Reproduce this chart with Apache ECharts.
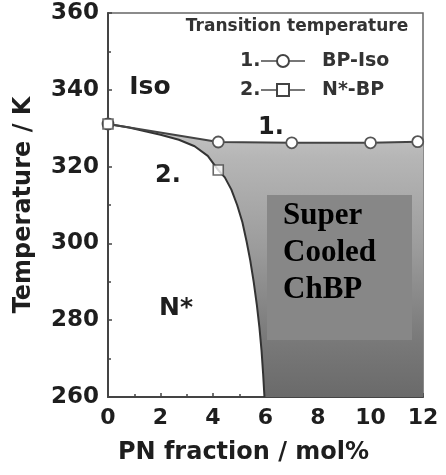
<!DOCTYPE html>
<html>
<head>
<meta charset="utf-8">
<script src="https://cdn.jsdelivr.net/npm/echarts@6/dist/echarts.min.js"></script>
<style>html,body{margin:0;padding:0;background:#fff;}#c{width:446px;height:475px;}</style>
</head>
<body>
<div id="c"></div>
<script>
// Axis ticks
var xTicks = [0, 2, 4, 6, 8, 10, 12];
var yTicks = [260, 280, 300, 320, 340, 360];

// Series 1: BP-Iso transition (circles)
var bpIsoX = [0, 4.2, 7, 10, 11.8];
var bpIsoY = [331.1, 326.4, 326.2, 326.2, 326.5];

// Series 2: N*-BP transition (squares, measured)
var nbpX = [0, 4.2];
var nbpY = [331.1, 319.1];

// Phase boundary N* / BP (traced curve)
var boundX = [0, 0.8, 1.5, 2.0, 2.7, 3.3, 3.8, 4.2, 4.45, 4.7, 4.92, 5.12, 5.28, 5.42, 5.55, 5.67, 5.77, 5.85, 5.91, 5.96];
var boundY = [331.1, 330.2, 329.1, 328.3, 327.0, 325.3, 322.8, 319.1, 317.2, 314.0, 310.0, 305.5, 300.5, 295.5, 290, 284, 278, 272, 266, 260];

// Upper edge of the shaded BP region extended to axis end
var upperEndX = 12;
var upperEndY = 326.5;

function pairs(xs, ys) { return xs.map(function (x, i) { return [x, ys[i]]; }); }

var FONT = 'DejaVu Sans';
var TXT = '#1e1e1e';
var chart = echarts.init(document.getElementById('c'), null, {renderer: 'canvas'});

var option = {
  animation: false,
  backgroundColor: '#fff',
  grid: {left: 108, right: 23, top: 13, bottom: 78, show: true, borderColor: '#666', borderWidth: 1.5, backgroundColor: 'transparent'},
  xAxis: {
    type: 'value', min: xTicks[0], max: xTicks[xTicks.length - 1], interval: 2,
    name: 'PN fraction / mol%', nameLocation: 'middle', nameGap: 44,
    nameTextStyle: {fontFamily: FONT, fontWeight: 'bold', fontSize: 24, color: TXT, padding: [0, 44, 0, 0]},
    axisLine: {lineStyle: {color: '#444', width: 2}},
    axisTick: {inside: true, length: 4, lineStyle: {color: '#444', width: 1.5}},
    minorTick: {show: true, splitNumber: 2, length: 3, lineStyle: {color: '#444', width: 1.5}},
    splitLine: {show: false},
    axisLabel: {fontFamily: FONT, fontWeight: 'bold', fontSize: 22, color: TXT, margin: 10}
  },
  yAxis: {
    type: 'value', min: yTicks[0], max: yTicks[yTicks.length - 1], interval: 20,
    name: 'Temperature / K', nameLocation: 'middle', nameGap: 72, nameRotate: 90,
    nameTextStyle: {fontFamily: FONT, fontWeight: 'bold', fontSize: 24, color: TXT},
    axisLine: {lineStyle: {color: '#444', width: 2}},
    axisTick: {inside: true, length: 4, lineStyle: {color: '#444', width: 1.5}},
    minorTick: {show: true, splitNumber: 2, length: 3, lineStyle: {color: '#444', width: 1.5}},
    splitLine: {show: false},
    axisLabel: {fontFamily: FONT, fontWeight: 'bold', fontSize: 23, color: TXT, margin: 9}
  },
  series: [
    {
      type: 'custom', name: 'BP region', z: 1, silent: true,
      data: [[0, 0]],
      renderItem: function (params, api) {
        var pts = [];
        bpIsoX.forEach(function (x, i) { pts.push(api.coord([x, bpIsoY[i]])); });
        pts.push(api.coord([upperEndX, upperEndY]));
        pts.push(api.coord([upperEndX, yTicks[0]]));
        for (var i = boundX.length - 1; i >= 0; i--) pts.push(api.coord([boundX[i], boundY[i]]));
        return {
          type: 'polygon',
          shape: {points: pts},
          style: {
            fill: {type: 'linear', x: 0, y: 0, x2: 0, y2: 1, colorStops: [
              {offset: 0, color: '#c6c6c6'}, {offset: 0.12, color: '#b6b6b6'},
              {offset: 0.45, color: '#9c9c9c'}, {offset: 0.78, color: '#7a7a7a'},
              {offset: 1, color: '#6a6a6a'}]},
            stroke: null
          }
        };
      }
    },
    {
      type: 'line', name: 'boundary', z: 3, data: pairs(boundX, boundY),
      symbol: 'none', lineStyle: {color: '#333', width: 2}, smooth: false
    },
    {
      type: 'line', name: 'BP-Iso', z: 4, data: pairs(bpIsoX, bpIsoY),
      symbol: 'circle', symbolSize: 11, showAllSymbol: true,
      lineStyle: {color: '#444', width: 2},
      itemStyle: {color: '#fff', borderColor: '#555', borderWidth: 1.8}
    },
    {
      type: 'scatter', name: 'N*-BP', z: 5, data: pairs(nbpX, nbpY),
      symbol: 'rect', symbolSize: 10,
      itemStyle: {color: '#fff', borderColor: '#444', borderWidth: 1.6}
    }
  ],
  graphic: [
    {type: 'rect', z: 10, shape: {x: 267, y: 195, width: 145, height: 145}, style: {fill: '#878787'}},
    {type: 'text', z: 11, left: 283, top: 197, style: {text: 'Super\nCooled\nChBP', fontFamily: 'Liberation Serif', fontWeight: 'bold', fontSize: 31, lineHeight: 37, fill: '#000'}},
    {type: 'text', z: 11, x: 150, y: 87, style: {text: 'Iso', fontFamily: FONT, fontWeight: 'bold', fontSize: 25, fill: TXT, textAlign: 'center', textVerticalAlign: 'middle'}},
    {type: 'text', z: 11, x: 176, y: 308, style: {text: 'N*', fontFamily: FONT, fontWeight: 'bold', fontSize: 25, fill: TXT, textAlign: 'center', textVerticalAlign: 'middle'}},
    {type: 'text', z: 11, x: 271, y: 128, style: {text: '1.', fontFamily: FONT, fontWeight: 'bold', fontSize: 24, fill: TXT, textAlign: 'center', textVerticalAlign: 'middle'}},
    {type: 'text', z: 11, x: 168, y: 176, style: {text: '2.', fontFamily: FONT, fontWeight: 'bold', fontSize: 24, fill: TXT, textAlign: 'center', textVerticalAlign: 'middle'}},
    // legend block
    {type: 'text', z: 11, x: 297, y: 27, style: {text: 'Transition temperature', fontFamily: FONT, fontWeight: 'bold', fontSize: 17, fill: '#333', textAlign: 'center', textVerticalAlign: 'middle'}},
    {type: 'text', z: 11, x: 240, y: 61, style: {text: '1.', fontFamily: FONT, fontWeight: 'bold', fontSize: 19, fill: '#333', textVerticalAlign: 'middle'}},
    {type: 'line', z: 11, shape: {x1: 261, y1: 61, x2: 305, y2: 61}, style: {stroke: '#777', lineWidth: 2}},
    {type: 'circle', z: 12, shape: {cx: 283, cy: 61, r: 6}, style: {fill: '#fff', stroke: '#444', lineWidth: 2}},
    {type: 'text', z: 11, x: 322, y: 61, style: {text: 'BP-Iso', fontFamily: FONT, fontWeight: 'bold', fontSize: 19, fill: '#333', textVerticalAlign: 'middle'}},
    {type: 'text', z: 11, x: 240, y: 90, style: {text: '2.', fontFamily: FONT, fontWeight: 'bold', fontSize: 19, fill: '#333', textVerticalAlign: 'middle'}},
    {type: 'line', z: 11, shape: {x1: 261, y1: 90, x2: 305, y2: 90}, style: {stroke: '#777', lineWidth: 2}},
    {type: 'rect', z: 12, shape: {x: 277, y: 84, width: 12, height: 12}, style: {fill: '#fff', stroke: '#444', lineWidth: 2}},
    {type: 'text', z: 11, x: 322, y: 90, style: {text: 'N*-BP', fontFamily: FONT, fontWeight: 'bold', fontSize: 19, fill: '#333', textVerticalAlign: 'middle'}}
  ]
};
chart.setOption(option);
</script>
</body>
</html>
